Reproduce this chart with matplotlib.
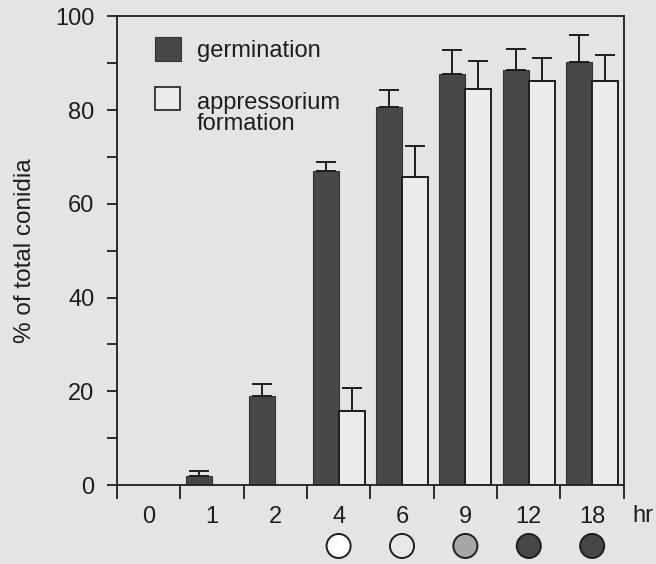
import numpy as np
import matplotlib
matplotlib.use("Agg")
import matplotlib.pyplot as plt
from matplotlib.patches import Rectangle

plt.rcParams['font.family'] = ['Liberation Sans', 'DejaVu Sans']

# time points (hr) and % of total conidia
hours = ['0', '1', '2', '4', '6', '9', '12', '18']
germination = [0, 2.0, 19.1, 66.9, 80.7, 87.7, 88.6, 90.3]
germination_err = [0, 1.0, 2.5, 2.0, 3.6, 5.1, 4.4, 5.8]
appressorium = [0, 0, 0, 15.9, 65.7, 84.5, 86.3, 86.3]
appressorium_err = [0, 0, 0, 4.7, 6.7, 5.9, 4.8, 5.5]

# appressorium stage shown under the later time points
stage_hours = ['4', '6', '9', '12', '18']
stage_colors = ['white', '#e8e8e8', '#a6a6a6', '#474747', '#474747']

bg = '#e4e4e4'
dark = '#484848'
light = '#ebebeb'
ink = '#1e1e1e'
fs = 17

fig = plt.figure(figsize=(6.56, 5.64), dpi=100)
fig.patch.set_facecolor(bg)
ax = fig.add_axes([0.178, 0.140, 0.773, 0.831])
ax.set_facecolor(bg)

x = np.arange(len(hours))
w = 0.41
g = np.array(germination)
ge = np.array(germination_err)
a = np.array(appressorium)
ae = np.array(appressorium_err)

mg = g > 0
ma = a > 0
ax.bar(x[mg] - w / 2, g[mg], w, color=dark, edgecolor='#333333', linewidth=0.8, zorder=2)
ax.bar(x[ma] + w / 2, a[ma], w, color=light, edgecolor=ink, linewidth=1.4, zorder=2)

ekw = dict(fmt='none', ecolor=ink, elinewidth=1.4, capsize=7, capthick=1.4, zorder=3)
ax.errorbar(x[mg] - w / 2, g[mg], yerr=[np.zeros(mg.sum()), ge[mg]], **ekw)
ax.errorbar(x[ma] + w / 2, a[ma], yerr=[np.zeros(ma.sum()), ae[ma]], **ekw)

ax.set_xlim(-0.5, len(hours) - 0.5)
ax.set_ylim(0, 100)

ax.set_xticks(x)
ax.set_xticklabels(hours)
ax.set_xticks(np.arange(len(hours) + 1) - 0.5, minor=True)
ax.tick_params(axis='x', which='major', length=0, pad=15, labelsize=fs, colors=ink)
ax.tick_params(axis='x', which='minor', length=10, width=1.3, direction='out', color=ink)

ax.set_yticks([0, 20, 40, 60, 80, 100])
ax.set_yticks([10, 30, 50, 70, 90], minor=True)
ax.tick_params(axis='y', which='both', length=7, width=1.3, direction='out', pad=9,
               labelsize=fs, colors=ink)

for s in ax.spines.values():
    s.set_linewidth(1.3)
    s.set_color(ink)

ax.set_ylabel('% of total conidia', fontsize=fs + 0.5, color=ink, labelpad=14)
ax.text(7.63, -0.065, 'hr', transform=ax.get_xaxis_transform(), fontsize=fs,
        color=ink, ha='left', va='center', clip_on=False)

# stage circles below the axis
sx = [hours.index(h) for h in stage_hours]
ax.scatter(sx, [-13] * len(sx), s=300, c=stage_colors, edgecolors=ink,
           linewidths=1.4, clip_on=False, zorder=4)

# legend
ax.add_patch(Rectangle((0.075, 0.905), 0.051, 0.051, transform=ax.transAxes,
                       facecolor=dark, edgecolor='#333333', linewidth=0.8))
ax.text(0.158, 0.926, 'germination', transform=ax.transAxes, fontsize=fs,
        color=ink, va='center')
ax.add_patch(Rectangle((0.075, 0.800), 0.049, 0.049, transform=ax.transAxes,
                       facecolor=light, edgecolor=ink, linewidth=1.2))
ax.text(0.158, 0.838, 'appressorium\nformation', transform=ax.transAxes,
        fontsize=fs, color=ink, va='top', linespacing=0.95)

fig.savefig('out.png', dpi=100, facecolor=bg)
